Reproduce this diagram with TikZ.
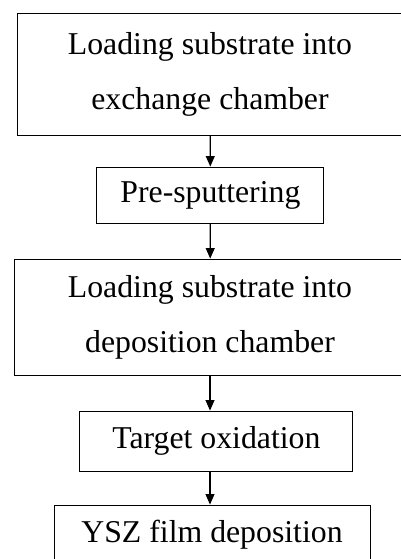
\documentclass[tikz,border=0pt]{standalone}
\usepackage{fontspec}
\setmainfont{Liberation Serif}
\usetikzlibrary{arrows.meta}

\begin{document}
\begin{tikzpicture}[stepbox/.style={draw, line width=0.6pt, align=center, inner sep=0pt,
        font=\fontsize{22.6}{39}\selectfont},
    flow/.style={-{Triangle[length=2.6mm,width=2.2mm]}, line width=0.8pt}]
        \clip (0,0) rectangle (10.025,-13.975);
        \node[stepbox, minimum width=9.625cm, minimum height=3.05cm] (load) at (5.25,-1.85) {Loading substrate into\\exchange chamber};
        \node[stepbox, minimum width=5.675cm, minimum height=1.4cm] (pre) at (5.26,-4.875) {Pre-sputtering};
        \node[stepbox, minimum width=9.8cm, minimum height=2.9cm] (dep) at (5.25,-7.925) {Loading substrate into\\deposition chamber};
        \node[stepbox, minimum width=6.825cm, minimum height=1.5cm] (ox) at (5.41,-11.025) {Target oxidation};
        \node[stepbox, minimum width=7.9cm, minimum height=1.5cm] (ysz) at (5.3,-13.375) {YSZ film deposition};
        \draw[flow] (load) -- (pre);
        \draw[flow] (pre) -- (dep);
        \draw[flow] (dep.south) -- (dep.south |- ox.north);
        \draw[flow] (ox.south -| dep.south) -- (dep.south |- ysz.north);
    \end{tikzpicture}
\end{document}
